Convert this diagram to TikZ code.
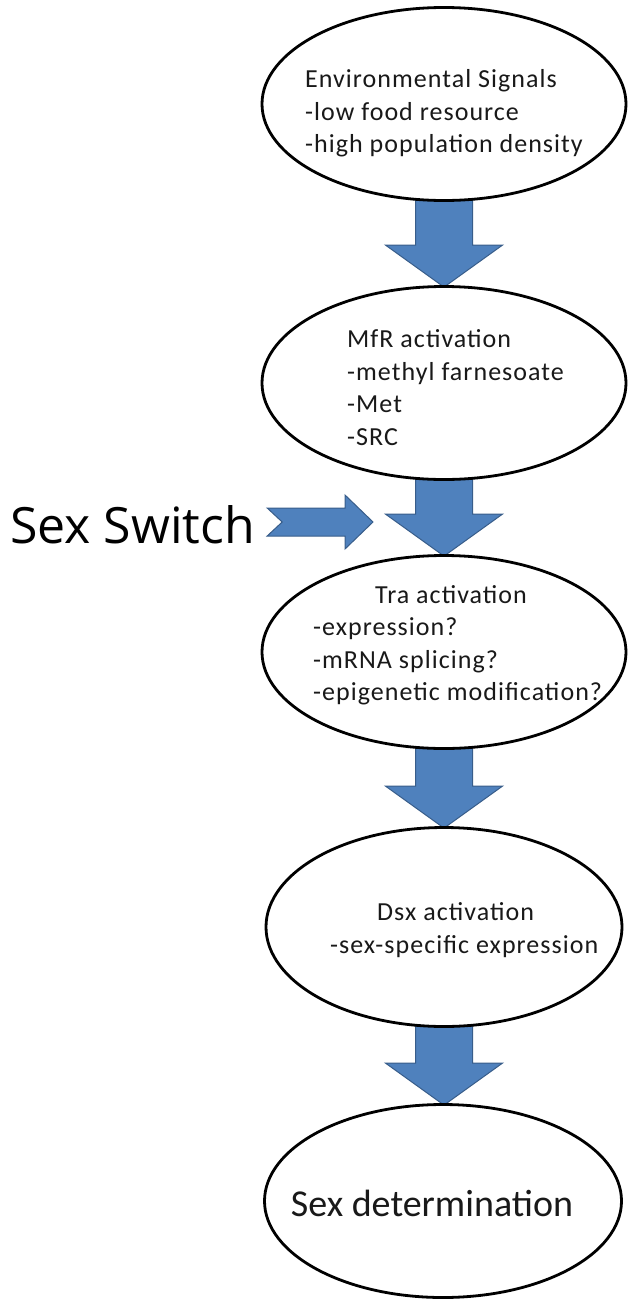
\documentclass[tikz,border=0pt]{standalone}
\usepackage{fontspec}
\usepackage{tikz}
\usetikzlibrary{shapes.geometric,backgrounds,calc}
\setmainfont{Carlito}
\newfontfamily\stagefont[LetterSpace=4]{Carlito}
\newfontfamily\switchfont{Open Sans}
\definecolor{arrowblue}{RGB}{79,129,189}
\definecolor{arrowedge}{RGB}{56,93,138}
\tikzset{
  stage/.style={ellipse, draw, line width=2.8pt, fill=white, inner sep=0pt,
    minimum width=364pt, minimum height=193pt},
  stagetext/.style={anchor=west, align=left, inner sep=0pt, text=black!90,
    font=\stagefont\fontsize{26}{32.5}\selectfont},
  blockarrow/.style={fill=arrowblue, draw=arrowedge, line width=1pt},
}

\begin{document}
\begin{tikzpicture}[x=1pt, y=-1pt]
  \def\shaft{28.5pt}
  \def\head{58.5pt}
  \def\headlen{42pt}
  \useasboundingbox (0, 0) rectangle (630, 1301);

  \node[stage] (env) at (444, 104) {};
  \node[stage] (mfr) at (444, 383) {};
  \node[stage] (tra) at (444, 652) {};
  \node[stage, minimum width=356pt, minimum height=199pt] (dsx) at (444, 927) {};
  \node[stage, minimum width=357pt] (sexdet) at (443, 1201) {};

  \node[stagetext] (envtext) at (305, 113.5)
    {Environmental Signals\\-low food resource\\-high population density};
  \node[stagetext] (mfrtext) at (347, 387.5)
    {MfR activation\\-methyl farnesoate\\-Met\\-SRC};
  \node[stagetext] (tratext) at (313, 645)
    {\hspace*{62pt}Tra activation\\-expression?\\-mRNA splicing?\\-epigenetic modification?};
  \node[stagetext] (dsxtext) at (330, 930)
    {\hspace*{47pt}Dsx activation\\-sex-specific expression};
  \node[text=black!90, inner sep=0pt, font=\fontsize{38}{44}\selectfont]
    (sexdettext) at (432, 1203) {Sex determination};

  \begin{scope}[on background layer]
    \foreach \a/\b in {env/mfr, mfr/tra, tra/dsx, dsx/sexdet}
      \draw[blockarrow]
        let \p1 = (\a.south), \p2 = (\b.north) in
        (\x1-\shaft, \y1+6pt) -- (\x1+\shaft, \y1+6pt) --
        (\x1+\shaft, \y2-2pt+\headlen) -- (\x1+\head, \y2-2pt+\headlen) --
        (\x1, \y2-2pt) --
        (\x1-\head, \y2-2pt+\headlen) -- (\x1-\shaft, \y2-2pt+\headlen) -- cycle
      ;
  \end{scope}

  \node[anchor=west, inner sep=0pt, font=\switchfont\fontsize{50}{60}\selectfont]
    (switch) at (10, 525) {Sex Switch};
  \coordinate (switchtip) at (373, 522);
  \draw[blockarrow]
    let \p1 = (switch.east), \p2 = (switchtip) in
    (\x1+12pt, \y2+14pt) -- (\x2-28pt, \y2+14pt) -- (\x2-28pt, \y2+27pt) --
    (\p2) --
    (\x2-28pt, \y2-27pt) -- (\x2-28pt, \y2-14pt) -- (\x1+12pt, \y2-14pt) --
    (\x1+27pt, \y2) -- cycle
  ;
\end{tikzpicture}
\end{document}
